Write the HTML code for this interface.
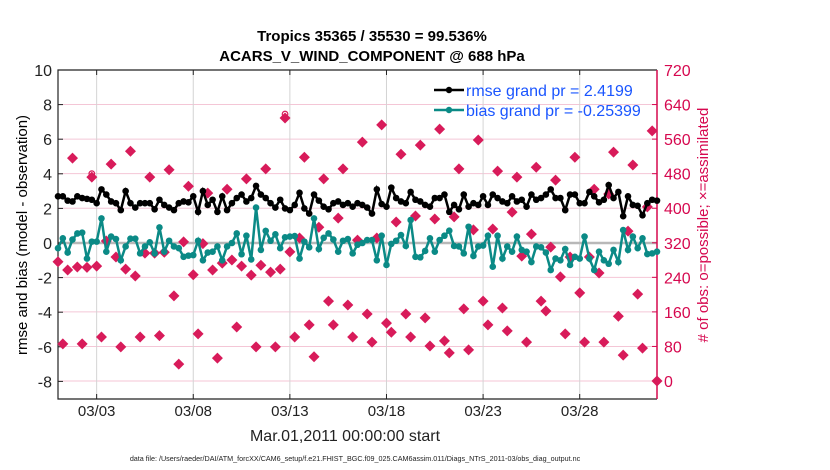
<!DOCTYPE html>
<html><head><meta charset="utf-8"><style>
html,body{margin:0;padding:0;background:#fff;}
svg{display:block;font-family:"Liberation Sans",Arial,sans-serif;}
</style></head><body>
<svg id="chart" width="830" height="470" viewBox="0 0 830 470">
<g id="grid"></g>
<g id="axes"></g>
<g id="series"></g>
<text x="372" y="41" text-anchor="middle" font-size="15" font-weight="bold">Tropics 35365 / 35530 = 99.536%</text>
<text x="372" y="61" text-anchor="middle" font-size="15" font-weight="bold">ACARS_V_WIND_COMPONENT @ 688 hPa</text>
<text transform="translate(27,235) rotate(-90)" text-anchor="middle" font-size="15">rmse and bias (model - observation)</text>
<text transform="translate(708,225) rotate(-90)" text-anchor="middle" font-size="15" fill="#d6084f"># of obs: o=possible; ×=assimilated</text>
<text x="345" y="441" text-anchor="middle" font-size="16" fill="#222">Mar.01,2011 00:00:00 start</text>
<text x="355" y="461" text-anchor="middle" font-size="7.2" fill="#222">data file: /Users/raeder/DAI/ATM_forcXX/CAM6_setup/f.e21.FHIST_BGC.f09_025.CAM6assim.011/Diags_NTrS_2011-03/obs_diag_output.nc</text>
<g>
<line x1="434" y1="90" x2="464" y2="90" stroke="#000" stroke-width="2.5"/>
<circle cx="449" cy="90" r="3.2" fill="#000"/>
<text x="466" y="96" font-size="16" fill="#1a55ff">rmse grand pr = 2.4199</text>
<line x1="434" y1="110" x2="464" y2="110" stroke="#0b8a86" stroke-width="2.5"/>
<circle cx="449" cy="110" r="3.2" fill="#0b8a86"/>
<text x="466" y="116" font-size="16" fill="#1a55ff">bias grand pr = -0.25399</text>
</g>
</svg>
<script>
const leftTicks = [-8,-6,-4,-2,0,2,4,6,8,10];
const rightTicks = [0,80,160,240,320,400,480,560,640,720];
const dateTicks = [2,7,12,17,22,27];
const dateLabels = ["03/03","03/08","03/13","03/18","03/23","03/28"];
const rmse = [2.7,2.7,2.45,2.4,2.7,2.6,2.55,2.5,2.3,3.1,2.8,2.4,2.3,1.9,3.0,2.3,2.05,2.3,2.3,2.3,1.95,2.5,2.2,2.05,1.9,2.3,2.4,2.35,2.7,1.8,3.0,2.2,
2.5,1.8,2.7,1.9,2.3,2.6,2.8,2.4,2.6,3.3,2.8,2.6,2.3,2.05,2.5,2.0,1.9,2.2,2.9,2.0,1.7,2.8,2.45,2.1,1.95,2.3,2.4,2.2,2.3,2.1,2.3,
2.2,2.05,1.7,3.1,2.25,2.1,3.2,2.6,2.4,2.3,2.95,2.5,2.4,2.2,2.1,2.6,2.6,2.8,1.8,2.2,1.95,2.8,2.1,2.3,2.2,2.7,2.2,2.8,2.6,2.4,2.3,
2.7,2.4,2.5,2.1,2.8,2.5,2.6,2.8,3.1,2.6,2.6,1.9,2.8,2.8,2.3,2.3,2.95,2.7,2.35,2.5,3.35,2.6,2.95,1.55,2.7,2.2,2.15,1.6,2.3,2.5,2.45];
const bias = [-0.3,0.27,-0.55,0.2,0.55,0.6,-0.9,0.08,0.08,1.42,-0.5,0.37,0.23,-1.0,-0.2,0.25,0.25,-0.6,-0.2,0.04,-0.6,0.9,-0.5,0.13,-0.2,-0.3,-0.8,-0.73,-0.7,0.13,-1.0,-0.55,
-0.5,-0.2,-1.0,-0.2,0,0.55,-0.65,0.42,-0.95,2.05,-0.4,0.7,0.13,0.5,-0.3,0.33,0.37,0.4,-0.9,0.08,-0.25,1.42,-0.35,0.3,0.55,0.2,-0.5,0.13,0.23,-0.6,-0.1,
0,0.17,0.17,-1.0,0.42,-1.27,-0.05,0.13,0.46,-0.17,1.33,-0.8,-0.83,-0.46,0.27,-0.5,0.17,0.42,0.71,-0.17,-0.2,-0.6,0.94,-0.75,-0.2,-0.15,0.42,-1.37,0.42,-0.9,-0.2,
-0.5,0.37,-0.4,-0.5,-1.1,-0.2,-0.25,-0.55,-1.56,-0.9,-1.0,-0.35,-1.27,-0.8,-0.9,0.37,-0.9,-1.56,-0.5,-1.0,-1.2,-0.4,-1.1,0.75,-0.4,0.37,-0.3,0.27,-0.64,-0.6,-0.5];
const obsCount = [276,86,257,516,264,86,263,472,266,102,324,502,287,79,259,532,243,102,296,472,296,105,298,489,197,39,322,451,246,109,318,435,
257,53,273,444,280,125,266,468,245,79,268,491,252,79,259,609,299,102,331,518,130,56,356,468,185,130,377,491,176,102,326,553,
155,90,331,593,134,113,368,525,155,102,382,546,146,81,375,583,93,65,380,491,167,72,350,558,185,130,352,486,169,116,391,
472,289,90,340,495,185,162,310,465,241,109,287,518,204,90,287,444,250,90,433,530,150,60,347,500,201,76,403,579,0];
const possibleMarks = [[7,480],[47,618]];

const NS="http://www.w3.org/2000/svg";
const L=58,R=657,T=70,B=399;
const xS=d=>L+(d/31)*(R-L);
const yL=v=>243-17.3*v;
const yR=c=>381-c*(311/720);
function mk(tag,attrs,parent){const e=document.createElementNS(NS,tag);for(const k in attrs)e.setAttribute(k,attrs[k]);parent.appendChild(e);return e;}
const grid=document.getElementById('grid'),axes=document.getElementById('axes'),series=document.getElementById('series');

rightTicks.forEach(c=>{const l=mk('line',{x1:L,x2:R,y1:yR(c),y2:yR(c),stroke:'#f4c6d6','stroke-width':1},grid);

});
dateTicks.forEach((d,i)=>{const l=mk('line',{x1:xS(d),x2:xS(d),y1:T,y2:B,stroke:'#d4d4d4','stroke-width':1},grid);


const t1=mk('line',{x1:xS(d),x2:xS(d),y1:B,y2:B-5,stroke:'#222'},axes);


const t2=mk('line',{x1:xS(d),x2:xS(d),y1:T,y2:T+5,stroke:'#222'},axes);


const tx=mk('text',{x:xS(d),y:416,'text-anchor':'middle','font-size':15,fill:'#222'},axes);tx.textContent=dateLabels[i];

});
const zl=mk('line',{x1:L,x2:R,y1:yL(0),y2:yL(0),stroke:'#b8b8b8','stroke-width':2.5},grid);



leftTicks.forEach(v=>{const t=mk('line',{x1:L,x2:L+5,y1:yL(v),y2:yL(v),stroke:'#222'},axes);


const tx=mk('text',{x:52,y:yL(v)+6,'text-anchor':'end','font-size':16,fill:'#222'},axes);tx.textContent=v;

});
rightTicks.forEach(c=>{const t=mk('line',{x1:R,x2:R-5,y1:yR(c),y2:yR(c),stroke:'#d6084f'},axes);


const tx=mk('text',{x:664,y:yR(c)+6,'font-size':16,fill:'#d6084f'},axes);tx.textContent=c;

});
const fr=mk('path',{d:`M${R},${T} L${L},${T} L${L},${B} L${R},${B}`,fill:'none',stroke:'#222','stroke-width':1.2},axes);


const ra=mk('line',{x1:R,x2:R,y1:T,y2:B,stroke:'#d6084f','stroke-width':1.5},axes);



const n=obsCount.length, step=31/(n-1);
obsCount.forEach((c,i)=>{const x=xS(i*step),y=yR(c);
const p=mk('path',{d:`M${x},${y-5.5}L${x+5.5},${y}L${x},${y+5.5}L${x-5.5},${y}Z`,fill:'#d81b5a'},series);

});
possibleMarks.forEach(m=>{const c=mk('circle',{cx:xS(m[0]*step),cy:yR(m[1]),r:2.8,fill:'none',stroke:'#d81b5a','stroke-width':1.2},series);

});

function line(vals,color,name){
const pts=vals.map((v,i)=>`${xS(i*step).toFixed(2)},${yL(v).toFixed(2)}`).join(' ');
const pl=mk('polyline',{points:pts,fill:'none',stroke:color,'stroke-width':2.5},series);


vals.forEach((v,i)=>{const c=mk('circle',{cx:xS(i*step),cy:yL(v),r:3.3,fill:color},series);

});}
line(bias,'#0b8a86','bias');
line(rmse,'#000','rmse');
</script>
</body></html>
